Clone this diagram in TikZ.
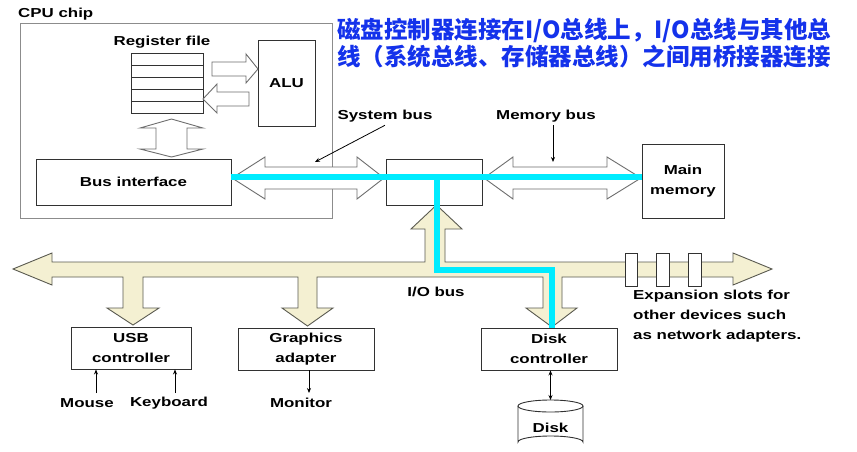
\documentclass[tikz,border=0pt]{standalone}
\usepackage{fontspec}
\newfontfamily\lab{Liberation Sans}[FakeStretch=1.3]
\newfontfamily\cjk{Noto Sans CJK SC}
\usetikzlibrary{arrows.meta}
\definecolor{busfill}{RGB}{244,240,210}
\definecolor{busline}{RGB}{90,90,80}
\definecolor{hilite}{RGB}{0,236,255}
\definecolor{notecol}{RGB}{20,50,235}
\definecolor{boxline}{RGB}{50,50,50}
\definecolor{hollowline}{RGB}{110,110,110}
\tikzset{
  lbl/.style={font=\lab\bfseries\fontsize{13}{20}\selectfont, text=black, inner sep=0pt, align=center},
  box/.style={draw=boxline, line width=0.9pt, fill=white, inner sep=0pt, lbl},
  hollow/.style={draw=hollowline, line width=0.9pt, fill=white},
  iobus/.style={draw=busline, line width=0.9pt, fill=busfill},
  slot/.style={draw=boxline, line width=0.9pt, fill=white},
  thin/.style={draw=black, line width=0.8pt, -{Stealth[length=5pt,width=4pt]}},
  thinboth/.style={draw=black, line width=0.8pt, {Stealth[length=5pt,width=4pt]}-{Stealth[length=5pt,width=4pt]}},
  hl/.style={draw=hilite, line width=6.5pt},
  note/.style={anchor=west, inner sep=0pt, text=notecol, font=\cjk\bfseries\fontsize{23.5}{26}\selectfont},
}
\begin{document}
\begin{tikzpicture}[x=1pt,y=-1pt]
\useasboundingbox (0,0) rectangle (857,451);
\fill[white] (0,0) rectangle (857,451);

% CPU chip
\node[lbl, anchor=west] (cpulabel) at (18,14) {CPU chip};
\node[draw=black!45, line width=0.9pt, minimum width=312pt, minimum height=195pt, inner sep=0pt] (cpu) at (176,120.5) {};

% register file
\node[lbl] (reglabel) at (162,42) {Register file};
\node[draw=boxline, line width=0.9pt, minimum width=72pt, minimum height=60pt, inner sep=0pt] (reg) at (167,83) {};
\foreach \yy in {65,77,89,101} { \draw[boxline, line width=0.9pt] (131,\yy) -- (203,\yy); }

% ALU
\node[box, minimum width=57pt, minimum height=86pt] (alu) at (286.5,83) {ALU};

% reg -> ALU arrow
\path[hollow] (212,62) -- (246,62) -- (246,54) -- (258,69) -- (246,83) -- (246,76) -- (212,76) -- cycle;
% ALU -> reg arrow
\path[hollow] (249,92) -- (217,92) -- (217,84) -- (203,99) -- (217,113) -- (217,106) -- (249,106) -- cycle;
% reg <-> bus interface
\path[hollow] (171.5,119) -- (203,128) -- (187,128) -- (187,149) -- (203,149) -- (171.5,157) -- (140,149) -- (156,149) -- (156,128) -- (140,128) -- cycle;

% Bus interface
\node[box, minimum width=195pt, minimum height=46pt] (busif) at (133.5,182) {Bus interface};

% bridge
\node[box, minimum width=96pt, minimum height=46pt] (bridge) at (434,182) {};

% main memory
\node[box, minimum width=82pt, minimum height=74pt] (mem) at (683,181) {Main\\memory};

% system bus
\path[hollow] (232,178) -- (265,157) -- (265,167) -- (357,167) -- (357,157) -- (384,178) -- (357,199) -- (357,189) -- (265,189) -- (265,199) -- cycle;
% memory bus
\path[hollow] (484,178) -- (513,157) -- (513,167) -- (607,167) -- (607,157) -- (641,178) -- (607,199) -- (607,189) -- (513,189) -- (513,199) -- cycle;

\node[lbl] (sysbus) at (385,116) {System bus};
\node[lbl] (membus) at (546,116) {Memory bus};
\coordinate (sysbustip) at (315,162);
\coordinate (membustip) at (553,162);
\draw[thin] (sysbus.south) ++(0,3) -- (sysbustip);
\draw[thin] (membus.south -| membustip) ++(0,3) -- (membustip);

% I/O bus
\path[iobus] (13,269) -- (52,253) -- (52,262) -- (425,262) -- (425,229) -- (411,229) -- (436.5,205) -- (462,229) -- (445,229) -- (445,262)
  -- (733,262) -- (733,253) -- (772,269) -- (733,285) -- (733,277)
  -- (562,277) -- (562,308) -- (577,308) -- (552,327) -- (526,308) -- (543,308) -- (543,277)
  -- (317,277) -- (317,308) -- (333,308) -- (307.5,326) -- (282,308) -- (298,308) -- (298,277)
  -- (143,277) -- (143,308) -- (159,308) -- (133,325) -- (107,308) -- (123,308) -- (123,277)
  -- (52,277) -- (52,285) -- cycle;
\node[slot, minimum width=12pt, minimum height=33pt] (slot1) at (631,269.5) {};
\node[slot, minimum width=13pt, minimum height=33pt] (slot2) at (663,269.5) {};
\node[slot, minimum width=13pt, minimum height=33pt] (slot3) at (695,269.5) {};
\node[lbl] (iolabel) at (436,292) {I/O bus};

% controllers
\node[box, minimum width=120pt, minimum height=42pt] (usb) at (131,348) {USB\\controller};
\node[box, minimum width=136pt, minimum height=42pt] (gfx) at (306,349) {Graphics\\adapter};
\node[box, minimum width=136pt, minimum height=42pt] (diskc) at (549,349) {Disk\\controller};

\node[lbl] (mouse) at (87,403) {Mouse};
\node[lbl] (kbd) at (169,403) {Keyboard};
\node[lbl] (monitor) at (301,403) {Monitor};
\coordinate (mousetop) at (96,393);
\coordinate (kbdtop) at (175,393);
\coordinate (montop) at (309,393);
\draw[thin] (mousetop) -- (mousetop |- usb.south);
\draw[thin] (kbdtop) -- (kbdtop |- usb.south);
\draw[thin] (montop |- gfx.south) -- (montop);

% disk
\draw[boxline, line width=0.9pt, fill=white] (518,406) -- (518,442) arc[start angle=180, end angle=0, x radius=32.5pt, y radius=6pt] -- (583,406);
\draw[boxline, line width=0.9pt, fill=white] (550.5,406) ellipse [x radius=32.5pt, y radius=6pt];
\node[lbl] (disk) at (550.5,428) {Disk};
\coordinate (disktop) at (550.5,400);
\draw[thinboth] (diskc.south -| disktop) -- (disktop);

% expansion text
\node[lbl, anchor=north west, align=left] (exp) at (633,290) {Expansion slots for\\other devices such\\as network adapters.};

% highlight path
\draw[hl] (busif.east |- 0,177) -- (mem.west |- 0,177);
\draw[hl] (437,177) -- (437,270) -- (552,270) -- (552,328);

% note
\node[note] (note1) at (337,31) {磁盘控制器连接在I/O总线上，I/O总线与其他总};
\node[note] (note2) at (337,57) {线（系统总线、存储器总线）之间用桥接器连接};
\end{tikzpicture}
\end{document}
